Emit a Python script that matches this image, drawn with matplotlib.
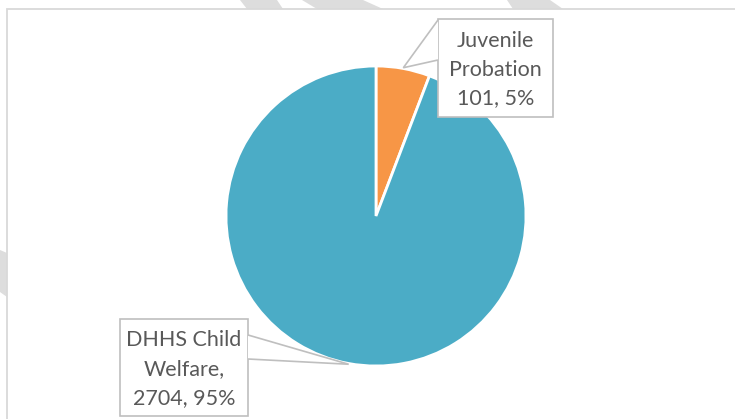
import numpy as np
import matplotlib
matplotlib.use("Agg")
import matplotlib.pyplot as plt
from matplotlib.patches import Rectangle, Polygon

# data
names = ["Juvenile\nProbation", "DHHS Child\nWelfare,"]
counts = [101, 2704]
pct_labels = [5, 95]
shares = [5.8, 94.2]   # wedge sizes
colors = ["#F79646", "#4BACC6"]

W, H = 735, 419
plt.rcParams['font.family'] = ['Lato', 'DejaVu Sans']

fig = plt.figure(figsize=(W / 100, H / 100), dpi=100)

def fx(px):
    return px / W

def fy(py):
    return 1 - py / H

# watermark stripes behind the chart
stripes = [
    [(240, 0), (277, 0), (283, 9), (247, 9)],
    [(302, 0), (363, 0), (383, 9), (317, 9)],
    [(507, 0), (550, 0), (563, 9), (513, 9)],
    [(0, 250), (7, 253), (7, 297), (0, 292)],
]
for s in stripes:
    fig.patches.append(Polygon([(fx(x), fy(y)) for x, y in s], closed=True,
                               transform=fig.transFigure, facecolor="#DDDDDD",
                               edgecolor="none", zorder=0))

# chart border
fig.patches.append(Rectangle((fx(7), -0.1), 1.2, fy(9.5) + 0.1,
                             transform=fig.transFigure, facecolor="white",
                             edgecolor="#D9D9D9", linewidth=1.3, zorder=1))

# pie axes: centre (376,216), radius 150 px
cx, cy, r = 376, 216, 150
ax = fig.add_axes([fx(cx - r), fy(cy + r), 2 * r / W, 2 * r / H])
ax.set_zorder(2)
ax.patch.set_visible(False)

wedges, _ = ax.pie(shares, colors=colors, startangle=90, counterclock=False,
                   wedgeprops=dict(edgecolor="white", linewidth=2))
ax.set_xlim(-1, 1)
ax.set_ylim(-1, 1)
ax.set_aspect('equal')
ax.axis('off')

def d(px, py):
    return ((px - cx) / r, (cy - py) / r)

# callout boxes (pixel box, pointer joins on box edge)
boxes = [
    dict(box=(438, 19, 553, 117), join=[(438, 20), (438, 60)]),
    dict(box=(120, 319, 248, 416), join=[(248, 335), (248, 359)]),
]
grey = "#BFBFBF"
for i, w in enumerate(wedges):
    mid = np.deg2rad((w.theta1 + w.theta2) / 2)
    apex = (np.cos(mid) * 1.005, np.sin(mid) * 1.005)
    x0, y0, x1, y1 = boxes[i]["box"]
    bx0, by0 = d(x0, y1)
    bx1, by1 = d(x1, y0)
    ax.add_patch(Rectangle((bx0, by0), bx1 - bx0, by1 - by0, facecolor="white",
                           edgecolor=grey, linewidth=1.2, clip_on=False, zorder=5))
    j1 = d(*boxes[i]["join"][0])
    j2 = d(*boxes[i]["join"][1])
    ax.add_patch(Polygon([j1, apex, j2], closed=False, facecolor="white",
                         edgecolor=grey, linewidth=1.2, clip_on=False, zorder=6))
    txt = "%s\n%d, %d%%" % (names[i], counts[i], pct_labels[i])
    ax.text((bx0 + bx1) / 2, (by0 + by1) / 2 - 0.01, txt, ha="center", va="center",
            fontsize=15.5, color="#595959", linespacing=1.55, zorder=7)

fig.savefig("out.png", dpi=100)
